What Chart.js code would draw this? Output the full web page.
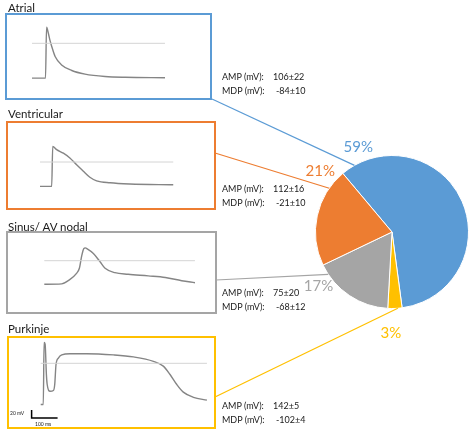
<!DOCTYPE html>
<html>
<head>
<meta charset="utf-8">
<script src="https://cdn.jsdelivr.net/npm/chart.js@4"></script>
<style>
  body { margin: 0; background: #fff; width: 474px; height: 438px; overflow: hidden; position: relative; font-family: Lato, sans-serif; color: #1a1a1a; }
  .abs { position: absolute; }
  .box { position: absolute; box-sizing: border-box; border: 2px solid; }
  .name { position: absolute; font-size: 11.5px; line-height: 12px; white-space: nowrap; }
  .stat { position: absolute; font-size: 9px; line-height: 10px; white-space: nowrap; }
  .tiny { position: absolute; font-size: 5px; line-height: 6px; white-space: nowrap; }
</style>
</head>
<body>
<canvas id="pieChart" class="abs" width="474" height="438" style="left:0;top:0"></canvas>
<script>
// cell types and their share of recorded cells
const cellTypes = ['Atrial', 'Ventricular', 'Sinus/ AV nodal', 'Purkinje'];
const sharePct = [59, 21, 17, 3];
const ampText = ['106±22', '112±16', '75±20', '142±5'];
const mdpText = ['-84±10', '-21±10', '-68±12', '-102±4'];
const cellColors = ['#5b9bd5', '#ed7d31', '#a5a5a5', '#ffc000'];

// example traces, time in ms and voltage in mV
const atrialMs = [0, 52, 56, 63, 69, 76, 89, 114, 153, 204, 281, 358, 512];
const atrialMv = [-87, -87, 40, 25, 8, -8, -33, -54, -68, -77, -83, -85, -86];
const ventMs = [0, 45, 49, 64, 90, 115, 141, 167, 192, 218, 270, 346, 513];
const ventMv = [-61, -61, 39, 31, 22, 10, -7, -23, -38, -47, -52, -55, -57];
const sinusMs = [0, 67, 92, 125, 135, 144, 152, 158, 164, 189, 214, 234, 272, 323, 400, 466, 529, 580];
const sinusMv = [-59, -58, -50, -31, -19, 12, 30, 32, 30, 18, -2, -19, -30, -34, -38, -42, -50, -55];
const purkMs = [0, 10, 13, 17, 22, 25, 36, 49, 54, 59, 68, 81, 113, 177, 280, 357, 434, 472, 498, 524, 549, 588, 640];
const purkMv = [-103, -103, 52, 48, -29, -53, -70, -68, -53, -3, 13, 21, 24, 24, 21, 16, 5, -7, -28, -53, -72, -85, -92];
const scaleBarMs = 100;
const scaleBarMv = 20;

const traceMs = [atrialMs, ventMs, sinusMs, purkMs];
const traceMv = [atrialMv, ventMv, sinusMv, purkMv];

// page layout (pixels)
const MS_PER_PX = 3.85, MV_PER_PX = 2.5;
const panelLayout = [
  { box: [6, 14, 211, 99], origin: [32, 43.3], nameY: 8, statY: 77 },
  { box: [7, 122, 215, 209], origin: [40, 162], nameY: 114, statY: 189 },
  { box: [7, 232, 216, 313], origin: [44.3, 260.7], nameY: 227, statY: 293 },
  { box: [8, 337, 215, 428], origin: [40.7, 363.3], nameY: 329, statY: 406 }
];
const anchors = [[212, 99], [215, 153], [216, 280], [215, 397]];
const lineFrac = [0.05, 0.8, 0.87, 0.3];
const labelFrac = [0.086, 0.87, 0.82, 0.76];
const labelGap = [14.5, 17.4, 15, 25];
const pieOrder = [0, 3, 2, 1];

function addEl(cls, x, y, text) {
  const d = document.createElement('div');
  d.className = cls;
  d.style.left = x + 'px';
  d.style.top = y + 'px';
  if (text !== undefined) d.textContent = text;
  document.body.appendChild(d);
  return d;
}

panelLayout.forEach((L, i) => {
  const [x1, y1, x2, y2] = L.box;
  const [ox, oy] = L.origin;
  const b = addEl('box', x1 - 1, y1 - 1);
  b.style.width = (x2 - x1 + 2) + 'px';
  b.style.height = (y2 - y1 + 2) + 'px';
  b.style.borderColor = cellColors[i];

  addEl('name', 8, L.nameY - 6, cellTypes[i]);
  addEl('stat', 222, L.statY - 5, 'AMP (mV):');
  addEl('stat', 273, L.statY - 5, ampText[i]);
  addEl('stat', 222, L.statY + 9, 'MDP (mV):');
  addEl('stat', 276, L.statY + 9, mdpText[i]);

  const cx = x1 + 1, cy = y1 + 1, cw = x2 - x1 - 2, ch = y2 - y1 - 2;
  const cv = document.createElement('canvas');
  cv.className = 'abs';
  cv.width = cw; cv.height = ch;
  cv.style.left = cx + 'px'; cv.style.top = cy + 'px';
  document.body.appendChild(cv);

  const ms = traceMs[i], mv = traceMv[i];
  const datasets = [
    { data: [{ x: ms[0], y: 0 }, { x: ms[ms.length - 1], y: 0 }], borderColor: '#d4d4d4', borderWidth: 1, pointRadius: 0 },
    { data: ms.map((t, k) => ({ x: t, y: mv[k] })), borderColor: '#858585', borderWidth: 1.4, pointRadius: 0, cubicInterpolationMode: 'monotone' }
  ];
  if (i === 3) {
    const bx = -35, by = -137;
    datasets.push({ data: [{ x: bx, y: by + scaleBarMv }, { x: bx, y: by }, { x: bx + scaleBarMs, y: by }], borderColor: '#000', borderWidth: 1.5, pointRadius: 0 });
  }
  new Chart(cv, {
    type: 'line',
    data: { datasets },
    options: {
      responsive: false, animation: false, events: [],
      layout: { padding: 0 },
      plugins: { legend: { display: false }, tooltip: { enabled: false } },
      scales: {
        x: { type: 'linear', display: false, min: (cx - ox) * MS_PER_PX, max: (cx + cw - ox) * MS_PER_PX },
        y: { display: false, min: (oy - cy - ch) * MV_PER_PX, max: (oy - cy) * MV_PER_PX }
      }
    }
  });
});

addEl('tiny', 10, 410, scaleBarMv + ' mV');
addEl('tiny', 35, 421, scaleBarMs + ' ms');

const pieDecor = {
  id: 'pieDecor',
  afterDatasetsDraw(chart) {
    const ctx = chart.ctx;
    chart.getDatasetMeta(0).data.forEach((arc, j) => {
      const i = pieOrder[j];
      const p = arc.getProps(['x', 'y', 'startAngle', 'endAngle', 'outerRadius'], true);
      const at = f => p.startAngle + f * (p.endAngle - p.startAngle);
      const a = at(lineFrac[i]);
      ctx.save();
      ctx.strokeStyle = cellColors[i];
      ctx.lineWidth = 1.2;
      ctx.beginPath();
      ctx.moveTo(anchors[i][0], anchors[i][1]);
      ctx.lineTo(p.x + Math.cos(a) * p.outerRadius, p.y + Math.sin(a) * p.outerRadius);
      ctx.stroke();
      const b = at(labelFrac[i]);
      const r = p.outerRadius + labelGap[i];
      ctx.fillStyle = cellColors[i];
      ctx.font = '15px Lato';
      ctx.textAlign = 'center';
      ctx.textBaseline = 'middle';
      ctx.fillText(sharePct[i] + '%', p.x + Math.cos(b) * r, p.y + Math.sin(b) * r);
      ctx.restore();
    });
  }
};

new Chart(document.getElementById('pieChart'), {
  type: 'pie',
  data: {
    labels: pieOrder.map(i => cellTypes[i]),
    datasets: [{
      data: pieOrder.map(i => sharePct[i]),
      backgroundColor: pieOrder.map(i => cellColors[i]),
      borderColor: '#fff',
      borderWidth: 1
    }]
  },
  options: {
    responsive: false, animation: false, events: [],
    rotation: -40,
    layout: { padding: { left: 315, right: 5, top: 155, bottom: 129 } },
    plugins: { legend: { display: false }, tooltip: { enabled: false } }
  },
  plugins: [pieDecor]
});
</script>
</body>
</html>
